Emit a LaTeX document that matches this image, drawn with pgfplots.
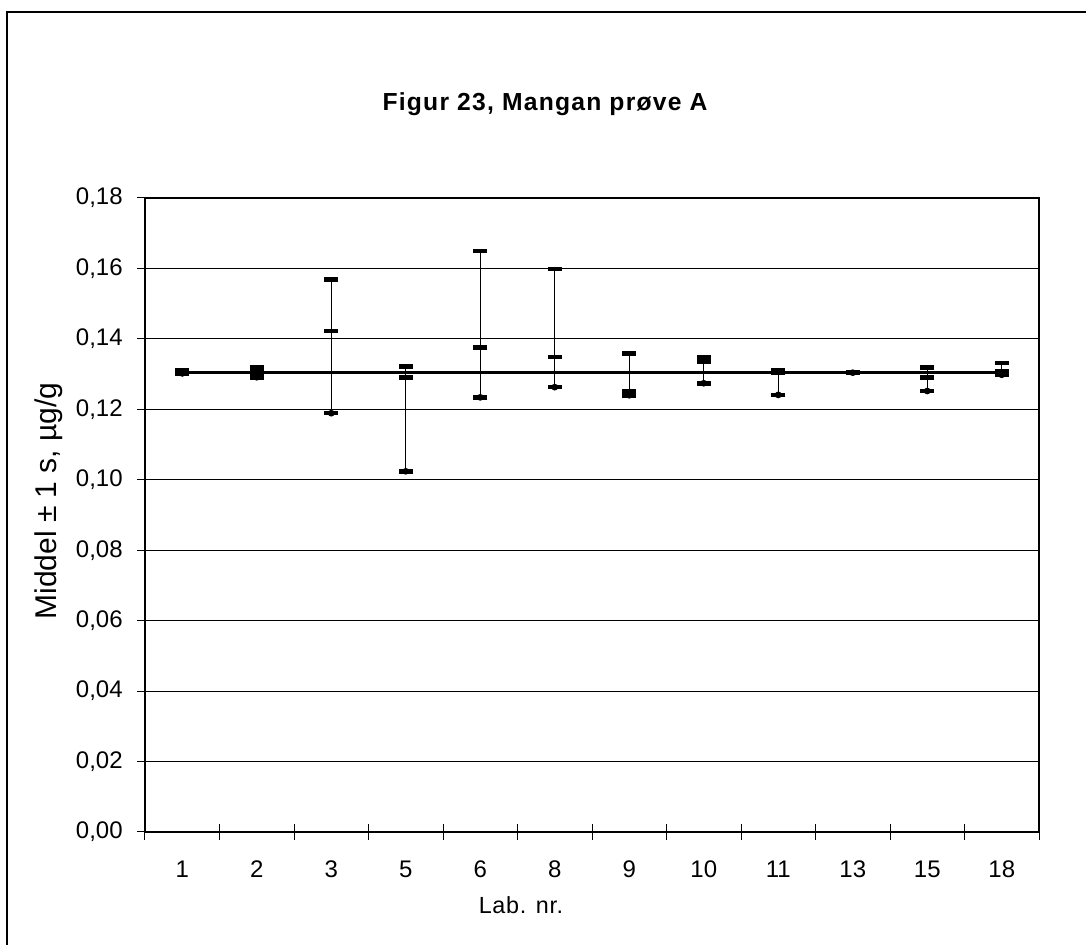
\documentclass[border=0pt]{standalone}
\usepackage{fontspec}
\setmainfont{Liberation Sans}
\usepackage{pgfplots}
\usepackage{pgfplotstable}
\pgfplotsset{compat=1.18}
\pgfplotstableread{
x lab high mid low grand
0 1 0.1312 0.1307 0.1302 0.1305
1 2 0.1319 0.1305 0.1291 0.1305
2 3 0.1569 0.1422 0.1189 0.1305
3 5 0.1321 0.1291 0.1024 0.1305
4 6 0.1649 0.1376 0.1234 0.1305
5 8 0.1598 0.1348 0.1263 0.1305
6 9 0.1359 0.1251 0.1240 0.1305
7 10 0.1348 0.1336 0.1274 0.1305
8 11 0.1310 0.1303 0.1241 0.1305
9 13 0.1306 0.1305 0.1304 0.1305
10 15 0.1319 0.1291 0.1252 0.1305
11 18 0.1331 0.1307 0.1298 0.1305
}\data
\begin{document}
\begin{tikzpicture}
\path[use as bounding box] (0pt,0pt) rectangle (814.5pt,708.75pt);
\draw[line width=0.9pt] (5.25pt,0pt) -- (5.25pt,699.75pt) -- (814.5pt,699.75pt);
\begin{axis}[
  at={(108.75pt,84.75pt)}, anchor=south west,
  scale only axis, width=670.5pt, height=475.5pt,
  xmin=-0.5, xmax=11.5, ymin=0, ymax=0.18,
  ytick={0,0.02,0.04,0.06,0.08,0.10,0.12,0.14,0.16,0.18},
  ymajorgrids, grid style={black, line width=0.75pt},
  axis line style={black, line width=0.8pt},
  tick align=center, major tick length=11.5pt,
  tick style={black, line width=0.75pt},
  xtick pos=bottom, ytick pos=left,
  xtick={-0.5,0.5,1.5,2.5,3.5,4.5,5.5,6.5,7.5,8.5,9.5,10.5,11.5},
  xticklabels={},
  extra x ticks={0,1,2,3,4,5,6,7,8,9,10,11},
  extra x tick labels={1,2,3,5,6,8,9,10,11,13,15,18},
  extra x tick style={major tick length=0pt, grid=none, xticklabel style={yshift=-18pt}},
  ticklabel style={font=\fontsize{18}{21}\selectfont},
  yticklabel style={xshift=-7.5pt},
  /pgf/number format/.cd, use comma, fixed, fixed zerofill, precision=2, assume math mode=true,
]
\draw[line width=1.5pt] (rel axis cs:0,0) -- (rel axis cs:0,1);
\addplot[black, line width=2.6pt, mark=none] table[x=x,y=grand]{\data};
\addplot[black, line width=1pt, only marks, mark=none,
  error bars/.cd, y dir=plus, y explicit, error mark=none,
  error bar style={black, line width=1pt}]
  table[x=x, y=low, y error expr=\thisrow{high}-\thisrow{low}]{\data};
\addplot[only marks, mark=-, mark size=5.25pt, mark options={black, line width=3.4pt}] table[x=x,y=high]{\data};
\addplot[only marks, mark=-, mark size=5.25pt, mark options={black, line width=3.4pt}] table[x=x,y=mid]{\data};
\addplot[only marks, mark=-, mark size=5.25pt, mark options={black, line width=3.4pt}] table[x=x,y=low]{\data};
\end{axis}
\node[anchor=base, font=\fontsize{18.5}{21}\selectfont\bfseries\addfontfeature{LetterSpace=5}] at (408.75pt,625.5pt) {Figur 23, Mangan prøve A};
\node[anchor=base, font=\fontsize{17.5}{20}\selectfont\addfontfeature{LetterSpace=3}] at (390.75pt,23.25pt) {Lab. nr.};
\node[anchor=base, rotate=90, font=\fontsize{22.5}{26}\selectfont] at (42pt,333pt) {Middel ± 1 s, µg/g};
\end{tikzpicture}
\end{document}
